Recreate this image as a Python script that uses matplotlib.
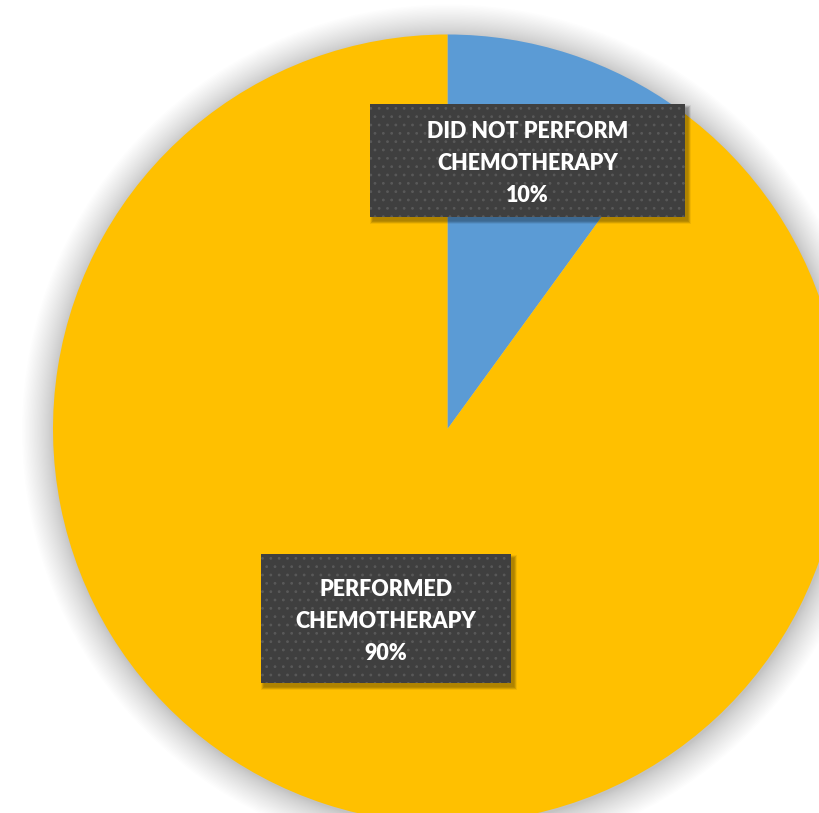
import matplotlib
matplotlib.use("Agg")
import matplotlib.pyplot as plt
from matplotlib.patches import Rectangle, Circle

labels = ["DID NOT PERFORM\nCHEMOTHERAPY", "PERFORMED\nCHEMOTHERAPY"]
values = [10, 90]
colors = ["#5B9BD5", "#FFC000"]

W, H = 819, 813
fig = plt.figure(figsize=(W / 100, H / 100), dpi=100)
ax = fig.add_axes([0, 0, 1, 1])

cx, cy, R = 447.5, H - 429, 394.5

# soft shadow around pie
n = 30
for i in range(n):
    r = R + 32 * (1 - i / n) ** 1.3
    ax.add_patch(Circle((cx + 1, cy - 2), r, color="#000000", alpha=0.0075, lw=0, zorder=0))

wedges, _ = ax.pie(values, colors=colors, startangle=90, counterclock=False,
                   center=(cx, cy), radius=R, frame=True,
                   wedgeprops=dict(linewidth=0))
for w in wedges:
    w.set_zorder(1)
ax.set_xlim(0, W)
ax.set_ylim(0, H)
ax.set_aspect("equal")
ax.axis("off")

total = sum(values)
boxes = [(370, 104, 685, 217), (261, 554, 511, 683)]
plt.rcParams["hatch.color"] = "#595959"
plt.rcParams["hatch.linewidth"] = 0.8
for (x0, y0, x1, y1), lab, v in zip(boxes, labels, values):
    bw, bh = x1 - x0, y1 - y0
    for k in range(6):
        ax.add_patch(Rectangle((x0 + 3 - k * 0.6, H - y1 - 4 - k * 0.6), bw + k * 1.2, bh + k * 1.2,
                               facecolor="#000000", alpha=0.06, lw=0, zorder=3))
    ax.add_patch(Rectangle((x0, H - y1), bw, bh, facecolor="#3f3f3f", edgecolor="none",
                           lw=0, zorder=4))
    ax.add_patch(Rectangle((x0, H - y1), bw, bh, facecolor="none", edgecolor="#595959",
                           hatch="..", lw=0, zorder=4.5))
    txt = f"{lab}\n{v / total * 100:.0f}%"
    ax.text((x0 + x1) / 2, H - (y0 + y1) / 2 - 3, txt, ha="center", va="center",
            color="white", fontsize=15.5, fontweight="heavy", family=["Lato", "DejaVu Sans"],
            linespacing=1.66, zorder=5)

fig.savefig("out.png", dpi=100)
